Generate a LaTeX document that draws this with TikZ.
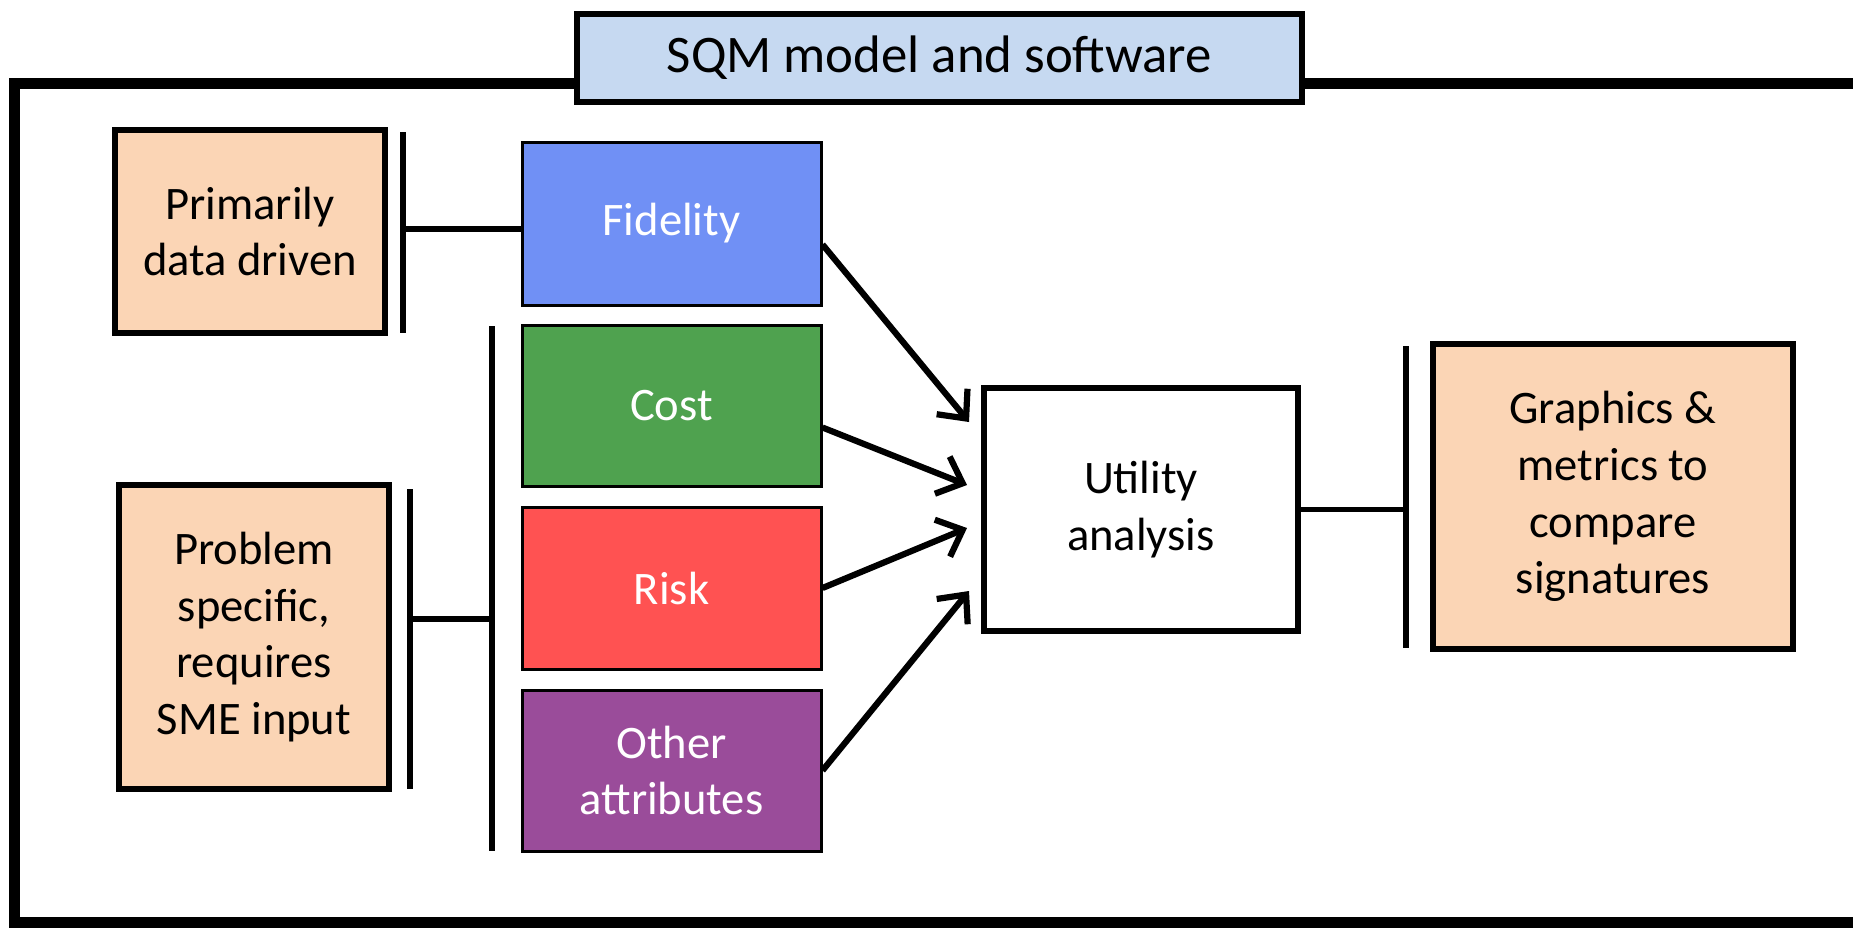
\documentclass[tikz,border=0pt]{standalone}
\usepackage{fontspec}
\setmainfont{Carlito}
\usetikzlibrary{arrows.meta,calc}
\definecolor{titleblue}{HTML}{C6D9F1}
\definecolor{peach}{HTML}{FBD5B5}
\definecolor{fidblue}{HTML}{7090F5}
\definecolor{costgreen}{HTML}{4FA24F}
\definecolor{riskred}{HTML}{FF5252}
\definecolor{otherpurple}{HTML}{9A4C9A}
\tikzset{
  px/.style={x=0.5pt,y=-0.5pt},
  bigtext/.style={font=\fontsize{23.3pt}{28.4pt}\selectfont, align=center},
  peachbox/.style={draw=black, line width=3pt, fill=peach, bigtext, inner sep=0pt},
  attrbox/.style={draw=black, line width=1.5pt, bigtext, text=white, inner sep=0pt, minimum width=149.5pt},
  utilbox/.style={draw=black, line width=3pt, fill=white, bigtext, inner sep=0pt},
  titlebox/.style={draw=black, line width=3pt, fill=titleblue, inner sep=0pt, font=\fontsize{26.4pt}{32pt}\selectfont},
  bar/.style={line width=2.6pt},
  conn/.style={line width=2.6pt},
  arr/.style={line width=3.1pt, -{Straight Barb[length=11pt,width=20pt,line width=3.1pt]}},
}
\begin{document}
\begin{tikzpicture}[px]
\useasboundingbox (0,0) rectangle (1853,927);
% outer frame
\draw[line width=5.5pt] (1900,83) -- (14,83) -- (14,922) -- (1900,922);
% title
\node[titlebox, minimum width=362.5pt, minimum height=44pt] (title) at (939.5,58) {SQM model and software};
% left boxes
\node[peachbox, minimum width=135pt, minimum height=101.5pt] (prim) at (250,231.5) {Primarily\\data driven};
\node[peachbox, minimum width=135pt, minimum height=152pt] (prob) at (254,637) {Problem\\specific,\\requires\\SME input};
% attribute boxes
\node[attrbox, fill=fidblue, minimum height=81.5pt] (fid) at (671.5,223.5) {Fidelity};
\node[attrbox, fill=costgreen, minimum height=80.5pt] (cost) at (671.5,405.5) {Cost};
\node[attrbox, fill=riskred, minimum height=81pt] (risk) at (671.5,588) {Risk};
\node[attrbox, fill=otherpurple, minimum height=80.5pt] (other) at (671.5,770.5) {Other\\attributes};
% utility & output
\node[utilbox, minimum width=157pt, minimum height=121.5pt] (util) at (1141,509.5) {Utility\\analysis};
\node[peachbox, minimum width=180pt, minimum height=152.5pt] (graph) at (1613,496.5) {Graphics \&\\metrics to\\compare\\signatures};
% bars
\coordinate (b1t) at (403,132); \coordinate (b1b) at (403,333);
\coordinate (b2t) at (492,326); \coordinate (b2b) at (492,851);
\coordinate (b3t) at (410,489); \coordinate (b3b) at (410,789);
\coordinate (b4t) at (1406,346); \coordinate (b4b) at (1406,648);
\draw[bar] (b1t) -- (b1b);
\draw[bar] (b2t) -- (b2b);
\draw[bar] (b3t) -- (b3b);
\draw[bar] (b4t) -- (b4b);
% connectors
\coordinate (c1) at (403,229);
\draw[conn] (c1) -- (c1 -| fid.west);
\coordinate (c3) at (410,619);
\draw[conn] (c3) -- (c3 -| b2t);
\draw[conn] (util.east) -- (util.east -| b4t);
% arrows
\coordinate (a1) at (969,422);
\coordinate (a2) at (967,485);
\coordinate (a3) at (967,528);
\coordinate (a4) at (969,591);
\draw[arr] ($(fid.east)+(0,21)$) -- (a1);
\draw[arr] ($(cost.east)+(0,22)$) -- (a2);
\draw[arr] ($(risk.east)+(0,0)$) -- (a3);
\draw[arr] ($(other.east)+(0,0)$) -- (a4);
\end{tikzpicture}
\end{document}
